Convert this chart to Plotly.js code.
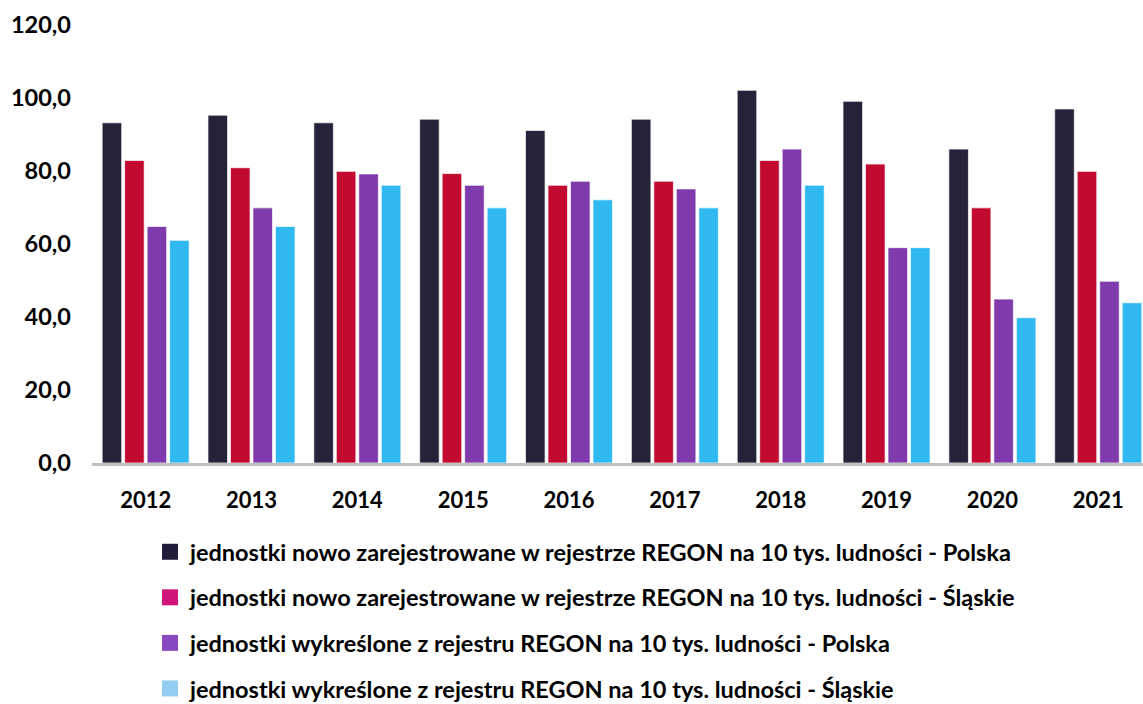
<!DOCTYPE html>
<html>
<head>
<meta charset="utf-8">
<script src="https://cdn.plot.ly/plotly-3.0.1.min.js"></script>
<style>
  html, body { margin: 0; padding: 0; background: #ffffff; overflow: hidden; }
  #chart { width: 1143px; height: 704px; }
</style>
</head>
<body>
<div id="chart"></div>
<script>
const years = ["2012", "2013", "2014", "2015", "2016", "2017", "2018", "2019", "2020", "2021"];

const newPolska   = [93.2, 95.3, 93.2, 94.2, 91.1, 94.2, 102.1, 99.1, 86.0, 97.0];
const newSlaskie  = [82.9, 80.9, 79.9, 79.3, 76.1, 77.2, 82.9, 81.9, 69.9, 79.9];
const delPolska   = [64.8, 69.9, 79.2, 76.1, 77.2, 75.1, 86.0, 59.0, 44.9, 49.8];
const delSlaskie  = [61.0, 64.8, 76.1, 69.9, 72.1, 69.9, 76.1, 59.0, 39.8, 43.9];

const seriesNames = [
  "jednostki nowo zarejestrowane w rejestrze REGON na 10 tys. ludności - Polska",
  "jednostki nowo zarejestrowane w rejestrze REGON na 10 tys. ludności - Śląskie",
  "jednostki wykreślone z rejestru REGON na 10 tys. ludności - Polska",
  "jednostki wykreślone z rejestru REGON na 10 tys. ludności - Śląskie"
];
const seriesValues = [newPolska, newSlaskie, delPolska, delSlaskie];
const barColors    = ["#24233A", "#C20A30", "#7F3BAB", "#2FB9F0"];
const legendColors = ["#221C3A", "#D0167A", "#8848BF", "#93CDF0"];

const traces = [];
seriesValues.forEach((vals, i) => {
  traces.push({
    type: "bar",
    x: years,
    y: vals,
    name: seriesNames[i],
    showlegend: false,
    marker: { color: barColors[i], line: { color: "rgba(255,255,255,0.7)", width: 1 } },
    hoverinfo: "x+y+name"
  });
});
seriesValues.forEach((vals, i) => {
  traces.push({
    type: "scatter",
    mode: "markers",
    x: [null],
    y: [null],
    name: seriesNames[i],
    legendgroup: "g" + i,
    showlegend: true,
    marker: { symbol: "square", size: 16, color: legendColors[i] },
    hoverinfo: "skip"
  });
});

const fontFam = "Lato, 'Open Sans', sans-serif";

const layout = {
  width: 1143,
  height: 704,
  margin: { l: 92, r: 0, t: 25, b: 241, pad: 0, autoexpand: false },
  paper_bgcolor: "#ffffff",
  plot_bgcolor: "#ffffff",
  separators: ", ",
  barmode: "group",
  bargap: 0.15,
  bargroupgap: 0.13,
  font: { family: fontFam, color: "#000000", size: 20, weight: 700 },
  xaxis: {
    type: "category",
    range: [-0.507, 9.423],
    showgrid: false,
    zeroline: false,
    showline: true,
    linecolor: "#BFBFBF",
    linewidth: 3,
    ticks: "",
    tickangle: 0,
    automargin: false,
    ticklabelstandoff: 16,
    tickfont: { family: fontFam, size: 22, color: "#000000", weight: 700 },
    fixedrange: true
  },
  yaxis: {
    range: [0, 120],
    dtick: 20,
    tick0: 0,
    tickformat: ".1f",
    showgrid: false,
    zeroline: false,
    showline: false,
    ticks: "",
    automargin: false,
    ticklabelstandoff: 20,
    tickfont: { family: fontFam, size: 23.5, color: "#000000", weight: 700 },
    fixedrange: true
  },
  legend: {
    orientation: "v",
    xref: "container",
    yref: "container",
    x: 150 / 1143,
    xanchor: "left",
    y: 1 - 530 / 704,
    yanchor: "top",
    traceorder: "grouped",
    tracegroupgap: 12,
    bgcolor: "rgba(0,0,0,0)",
    font: { family: fontFam, size: 23.5, color: "#000000", weight: 700 },
    itemclick: false,
    itemdoubleclick: false
  },
  showlegend: true
};

Plotly.newPlot("chart", traces, layout, { displayModeBar: false, staticPlot: true });
</script>
</body>
</html>
